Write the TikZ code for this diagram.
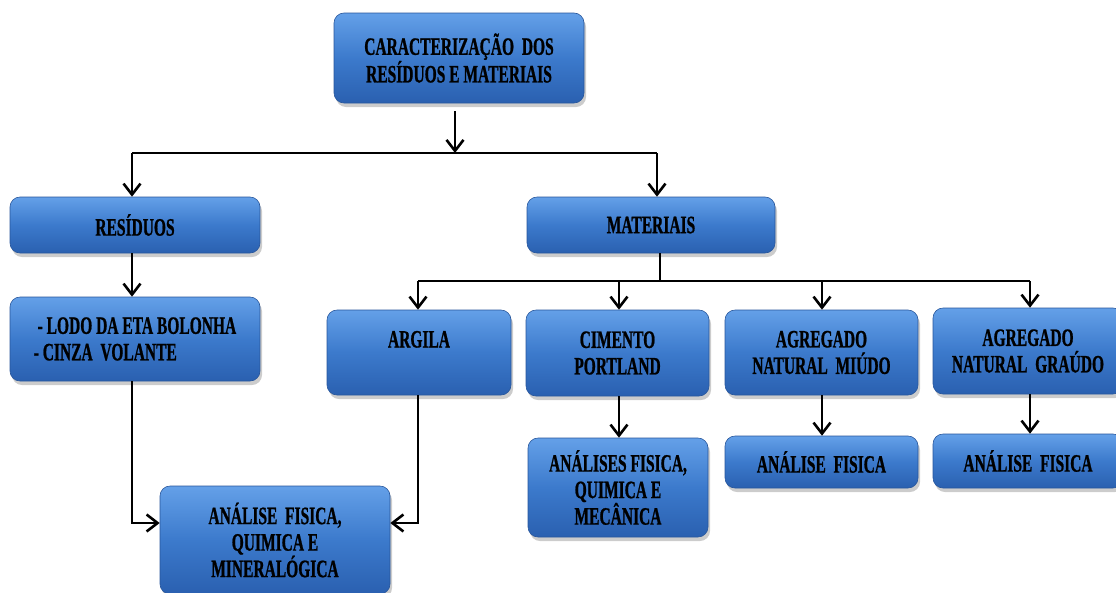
\documentclass[tikz,border=0pt]{standalone}
\usepackage{fontspec}
\newfontfamily\boxfont{Liberation Serif}[FakeStretch=0.62,FakeBold=0.8]
\usetikzlibrary{arrows.meta,shadows,calc}
\definecolor{boxtop}{RGB}{100,160,232}
\definecolor{boxmid}{RGB}{60,122,204}
\definecolor{boxbot}{RGB}{42,96,176}
\definecolor{boxline}{RGB}{40,86,155}
\tikzset{
  blk/.style={rectangle, rounded corners=10pt, draw=boxline, line width=0.6pt,
    top color=boxtop, bottom color=boxbot, middle color=boxmid,
    drop shadow={opacity=0.4, shadow xshift=2pt, shadow yshift=-4pt},
    align=center, inner sep=2pt,
    font=\boxfont\bfseries\fontsize{25}{26.5}\selectfont, text=black},
  conn/.style={line width=2.6pt, black},
  arr/.style={conn, -{Straight Barb[length=11pt,width=17pt]}},
}
\begin{document}
\begin{tikzpicture}[x=1pt,y=-1pt]
\useasboundingbox (0,0) rectangle (1116,592);
\node[blk, minimum width=250pt, minimum height=90pt] (top) at (459,58) {CARACTERIZAÇÃO\ \ DOS\\RESÍDUOS E MATERIAIS};
\node[blk, minimum width=250pt, minimum height=56pt] (res) at (135,225) {RESÍDUOS};
\node[blk, minimum width=248pt, minimum height=56pt] (mat) at (651,225) {MATERIAIS};
\node[blk, minimum width=250pt, minimum height=84pt, align=left] (lodo) at (135,339) {\ - LODO DA ETA BOLONHA\\- CINZA\ \ VOLANTE};
\node[blk, minimum width=184pt, minimum height=85pt] (arg) at (419,352.5) {ARGILA\\\phantom{X}};
\node[blk, minimum width=183pt, minimum height=86pt] (cim) at (617.5,353) {CIMENTO\\PORTLAND};
\node[blk, minimum width=193pt, minimum height=85pt] (miu) at (821.5,352.5) {AGREGADO\\NATURAL\ \ MIÚDO};
\node[blk, minimum width=190pt, minimum height=86pt] (gra) at (1028,351) {AGREGADO\\NATURAL\ \ GRAÚDO};
\node[blk, minimum width=180pt, minimum height=99pt] (ancim) at (618,487.5) {ANÁLISES FISICA,\\QUIMICA E\\MECÂNICA};
\node[blk, minimum width=193pt, minimum height=52pt] (anmiu) at (821.5,462) {ANÁLISE\ \ FISICA};
\node[blk, minimum width=190pt, minimum height=54pt] (angra) at (1028,461) {ANÁLISE\ \ FISICA};
\node[blk, minimum width=230pt, minimum height=108pt] (minr) at (275,540) {ANÁLISE\ \ FISICA,\\QUIMICA E\\MINERALÓGICA};
% bus 1
\coordinate (b0) at (455,153);
\coordinate (bL) at (132,153);
\coordinate (bR) at (657,153);
\draw[arr] ([yshift=-8pt]top.south -| b0) -- (b0);
\draw[conn] (bL) -- (bR);
\draw[arr] (bL) -- (bL |- res.north);
\draw[arr] (bR) -- (bR |- mat.north);
% residuos
\coordinate (r0) at (132,0);
\draw[arr] (res.south -| r0) -- (lodo.north -| r0);
\coordinate (m1) at (132,523);
\draw[arr] (lodo.south -| m1) -- (m1) -- (minr.west |- m1);
\coordinate (m2) at (418,523);
\draw[arr] (arg.south -| m2) -- (m2) -- (minr.east |- m2);
% bus 2
\coordinate (c0) at (660,281);
\coordinate (c1) at (418,281);
\coordinate (c2) at (619,281);
\coordinate (c3) at (822,281);
\coordinate (c4) at (1030,281);
\draw[conn] (mat.south -| c0) -- (c0);
\draw[conn] (c1) -- (c4);
\draw[arr] (c1) -- (c1 |- arg.north);
\draw[arr] (c2) -- (c2 |- cim.north);
\draw[arr] (c3) -- (c3 |- miu.north);
\draw[arr] (c4) -- (c4 |- gra.north);
\draw[arr] (cim.south -| c2) -- (ancim.north -| c2);
\draw[arr] (miu.south -| c3) -- (anmiu.north -| c3);
\draw[arr] (gra.south -| c4) -- (angra.north -| c4);
\end{tikzpicture}
\end{document}
